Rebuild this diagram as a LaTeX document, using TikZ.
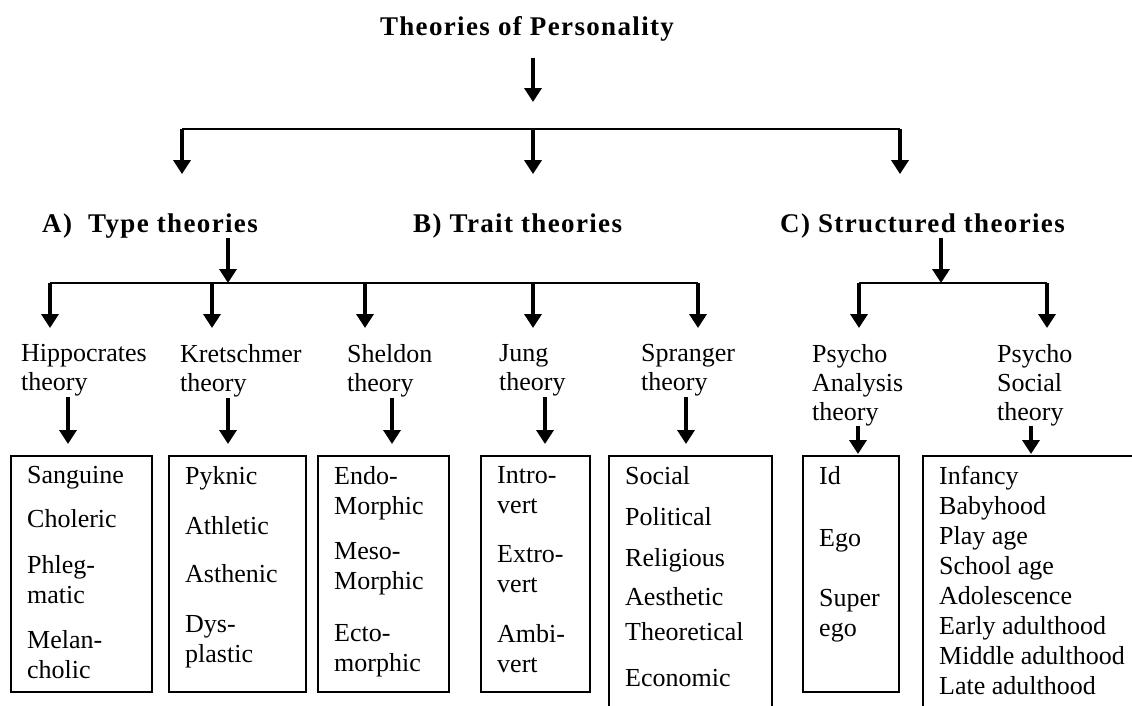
\documentclass[tikz,border=0pt]{standalone}
\usepackage{fontspec}
\setmainfont{Liberation Serif}
\newfontfamily\headfont[LetterSpace=5]{Liberation Serif}
\usetikzlibrary{arrows.meta,positioning}

\begin{document}
\begin{tikzpicture}[x=1pt, y=-1pt,
    head/.style={font=\headfont\bfseries\fontsize{27}{30}\selectfont, inner sep=0pt, anchor=base west},
    lbl/.style={font=\fontsize{26}{29}\selectfont, align=left, inner sep=0pt, anchor=north west},
    listbox/.style={draw, line width=1.6pt, anchor=north west, minimum height=236pt, inner sep=0pt},
    items/.style={font=\fontsize{26}{30}\selectfont, align=left, inner sep=0pt, below right=11pt and 17pt of #1.north west},
    arrow/.style={-{Triangle[width=17pt,length=14pt]}, line width=3.5pt},
    bus/.style={line width=2pt}
]
    \useasboundingbox (0,0) rectangle (1132,705);
    \clip (0,0) rectangle (1132,705);

    % Title and first split
    \node[head, anchor=base] (title) at (527,35) {Theories of Personality};
    \coordinate (t0) at (533,102);
    \draw[arrow, shorten <=17pt] (title.south -| t0) -- (t0);

    \node[head] (typeth) at (42,232) {A)\ \ Type theories};
    \node[head] (traitth) at (413,232) {B) Trait theories};
    \node[head] (structth) at (780,232) {C) Structured theories};

    \coordinate (ta) at (182,129);
    \coordinate (tb) at (533,129);
    \coordinate (tc) at (900,129);
    \draw[bus] (ta) -- (tc);
    \foreach \c/\h in {ta/typeth, tb/traitth, tc/structth} {
        \draw[arrow, shorten >=39pt] (\c) -- (\c |- \h.north);
    }

    % Second level labels
    \node[lbl] (hipp) at (21,344) {Hippocrates\\theory};
    \node[lbl] (kret) at (180,344) {Kretschmer\\theory};
    \node[lbl] (shel) at (347,344) {Sheldon\\theory};
    \node[lbl] (jung) at (499,344) {Jung\\theory};
    \node[lbl] (spra) at (641,344) {Spranger\\theory};
    \node[lbl] (psyan) at (812,344) {Psycho\\Analysis\\theory};
    \node[lbl] (psyso) at (997,344) {Psycho\\Social\\theory};

    % Type theories split
    \coordinate (ma) at (228,283);
    \draw[arrow] (typeth.south -| ma) -- (ma);
    \coordinate (ml) at (50,283);
    \coordinate (mr) at (698,283);
    \draw[bus] (ml) -- (mr);
    \foreach \l/\x in {hipp/50, kret/212, shel/365, jung/533, spra/698} {
        \coordinate (m\l) at (\x,283);
        \draw[arrow, shorten >=16pt] (m\l) -- (m\l |- \l.north);
    }

    % Structured theories split
    \coordinate (sa) at (941,283);
    \draw[arrow] (structth.south -| sa) -- (sa);
    \coordinate (mpsyan) at (859,283);
    \coordinate (mpsyso) at (1047,283);
    \draw[bus] (mpsyan) -- (mpsyso);
    \foreach \l in {psyan, psyso} {
        \draw[arrow, shorten >=16pt] (m\l) -- (m\l |- \l.north);
    }

    % Boxes
    \node[listbox, minimum width=141pt] (bx1) at (10,455) {};
    \node[listbox, minimum width=137pt] (bx2) at (168,455) {};
    \node[listbox, minimum width=131pt] (bx3) at (317,455) {};
    \node[listbox, minimum width=109pt] (bx4) at (480,455) {};
    \node[listbox, minimum width=163pt, minimum height=270pt] (bx5) at (608,455) {};
    \node[listbox, minimum width=96pt] (bx6) at (802,455) {};
    \node[listbox, minimum width=260pt, minimum height=270pt] (bx7) at (922,455) {};

    \node[items=bx1] (ls1) {Sanguine\\[14pt]Choleric\\[16pt]Phleg-\\matic\\[15pt]Melan-\\cholic};
    \node[items=bx2] (ls2) {Pyknic\\[20pt]Athletic\\[18pt]Asthenic\\[20pt]Dys-\\plastic};
    \node[items=bx3] (ls3) {Endo-\\Morphic\\[15pt]Meso-\\Morphic\\[22pt]Ecto-\\morphic};
    \node[items=bx4] (ls4) {Intro-\\vert\\[19pt]Extro-\\vert\\[20pt]Ambi-\\vert};
    \node[items=bx5] (ls5) {Social\\[11pt]Political\\[11pt]Religious\\[9pt]Aesthetic\\[5pt]Theoretical\\[16pt]Economic};
    \node[items=bx6] (ls6) {Id\\[32pt]Ego\\[30pt]Super\\ego};
    \node[items=bx7] (ls7) {Infancy\\Babyhood\\Play age\\School age\\Adolescence\\Early adulthood\\Middle adulthood\\Late adulthood};

    % Labels to boxes
    \foreach \l/\b/\x in {hipp/bx1/68, kret/bx2/228, shel/bx3/392, jung/bx4/545, spra/bx5/686} {
        \draw[arrow, shorten <=1pt, shorten >=11pt] (\l.south -| \x,0) -- (\b.north -| \x,0);
    }
    \foreach \l/\b/\x in {psyan/bx6/858, psyso/bx7/1031} {
        \draw[arrow, shorten >=1pt] (\l.south -| \x,0) -- (\b.north -| \x,0);
    }
\end{tikzpicture}
\end{document}
